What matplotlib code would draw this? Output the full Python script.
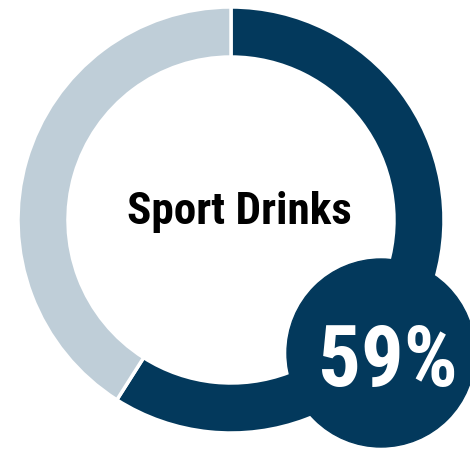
import matplotlib
matplotlib.use("Agg")
import matplotlib.pyplot as plt
from matplotlib.patches import Circle

labels = ["Sport Drinks", "Other"]
shares = [59, 41]
colors = ["#03395c", "#bfced8"]
title = "Sport Drinks"

fonts = ["Roboto Condensed", "Barlow Condensed", "DejaVu Sans"]

W, H = 470, 451
fig = plt.figure(figsize=(W / 100, H / 100), dpi=100)
ax = fig.add_axes([0, 0, 1, 1])

# ring, clockwise from 12 o'clock
ax.pie(shares, colors=colors, radius=213, center=(231, H - 220),
       startangle=90, counterclock=False,
       wedgeprops=dict(width=50, edgecolor="white", linewidth=2.5))

ax.text(239, H - 224, title, ha="center", va="baseline", fontsize=32.5,
        fontweight="bold", family=fonts, color="black")

# value badge
ax.add_patch(Circle((381, H - 353), 94, color=colors[0], zorder=5))
ax.text(388, H - 386, f"{shares[0]}%", ha="center", va="baseline",
        fontsize=61, fontweight="bold", color="white", zorder=6,
        family=fonts)

ax.set_xlim(0, W)
ax.set_ylim(0, H)
ax.set_aspect("auto")
ax.axis("off")
fig.savefig("out.png", dpi=100)
